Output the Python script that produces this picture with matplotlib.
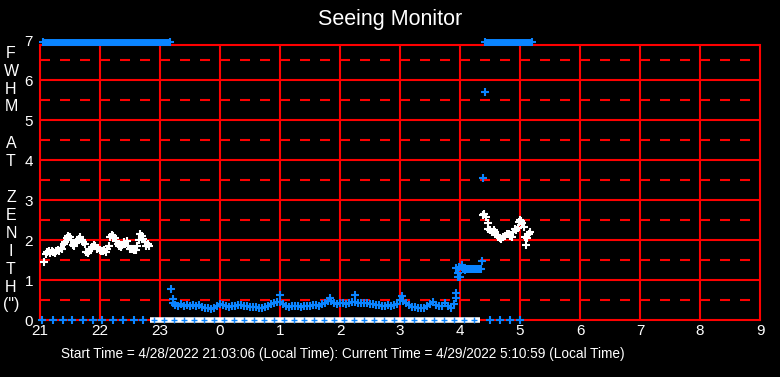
import matplotlib
matplotlib.use("Agg")
import matplotlib.pyplot as plt

# ---------------- data (hours since 21:00) ----------------
x_tick_labels = ["21", "22", "23", "0", "1", "2", "3", "4", "5", "6", "7", "8", "9"]
y_tick_labels = ["0", "1", "2", "3", "4", "5", "6", "7"]

white1_t = [0.07, 0.10, 0.12, 0.15, 0.17, 0.20, 0.22, 0.25, 0.27, 0.30, 0.32, 0.35, 0.37,
            0.40, 0.42, 0.45, 0.47, 0.50, 0.52, 0.55, 0.57, 0.60, 0.62, 0.65, 0.67, 0.70,
            0.72, 0.75, 0.77, 0.80, 0.82, 0.85, 0.87, 0.90, 0.92, 0.95, 0.97, 1.00, 1.02,
            1.05, 1.07, 1.10, 1.12, 1.15, 1.17, 1.20, 1.22, 1.25, 1.27, 1.30, 1.32, 1.35,
            1.37, 1.40, 1.42, 1.45, 1.47, 1.50, 1.52, 1.55, 1.57, 1.60, 1.62, 1.65, 1.67,
            1.70, 1.72, 1.75, 1.77, 1.80, 1.82]
white1_v = [1.45, 1.65, 1.70, 1.73, 1.68, 1.72, 1.70, 1.67, 1.72, 1.75, 1.73, 1.80, 1.78,
            1.90, 1.95, 2.05, 2.10, 2.08, 2.00, 1.88, 1.85, 1.92, 1.98, 2.02, 2.07, 2.00,
            1.95, 1.90, 1.70, 1.68, 1.72, 1.78, 1.82, 1.88, 1.85, 1.78, 1.80, 1.75, 1.73,
            1.72, 1.75, 1.71, 1.78, 1.85, 2.08, 2.12, 2.10, 2.05, 1.98, 1.90, 1.85, 1.82,
            1.88, 1.95, 1.90, 1.98, 1.85, 1.78, 1.77, 1.78, 1.75, 1.76, 1.85, 2.00, 2.15,
            2.10, 2.02, 1.95, 1.85, 1.90, 1.85]

white2_t = [7.39, 7.40, 7.43, 7.46, 7.47, 7.50, 7.53, 7.56, 7.58, 7.61, 7.64, 7.67, 7.69,
            7.72, 7.75, 7.78, 7.81, 7.84, 7.86, 7.89, 7.92, 7.94, 7.96, 7.98, 8.00, 8.02,
            8.04, 8.06, 8.08, 8.10, 8.12, 8.15, 8.17]
white2_v = [2.62, 2.65, 2.57, 2.42, 2.28, 2.25, 2.21, 2.24, 2.21, 2.12, 2.08, 2.05, 2.03,
            2.08, 2.11, 2.15, 2.15, 2.10, 2.08, 2.20, 2.28, 2.25, 2.29, 2.45, 2.50, 2.47,
            2.43, 2.32, 2.08, 1.88, 2.04, 2.15, 2.19]

blue_t = [2.19, 2.21, 2.22, 2.25, 2.30, 2.35, 2.40, 2.45, 2.50, 2.55, 2.60, 2.65, 2.70,
          2.75, 2.80, 2.85, 2.90, 2.95, 3.00, 3.05, 3.10, 3.15, 3.20, 3.25, 3.30, 3.35,
          3.40, 3.45, 3.50, 3.55, 3.60, 3.65, 3.70, 3.75, 3.80, 3.85, 3.90, 3.95, 4.00,
          4.00, 4.05, 4.10, 4.15, 4.20, 4.25, 4.30, 4.35, 4.40, 4.45, 4.50, 4.55, 4.60,
          4.65, 4.70, 4.75, 4.80, 4.83, 4.85, 4.90, 4.95, 5.00, 5.05, 5.10, 5.15, 5.20,
          5.25, 5.25, 5.30, 5.35, 5.40, 5.45, 5.50, 5.55, 5.60, 5.65, 5.70, 5.75, 5.80,
          5.85, 5.90, 5.95, 6.00, 6.03, 6.05, 6.10, 6.15, 6.20, 6.25, 6.30, 6.35, 6.40,
          6.45, 6.50, 6.55, 6.60, 6.65, 6.70, 6.75, 6.80, 6.85, 6.90, 6.93, 6.94, 6.94,
          6.96, 6.97, 6.98, 7.00, 7.03, 7.05, 7.08, 7.10, 7.13, 7.15, 7.18, 7.20, 7.23,
          7.25, 7.28, 7.30, 7.33, 7.35, 7.37, 7.39, 7.41]
blue_v = [0.77, 0.53, 0.42, 0.38, 0.35, 0.40, 0.36, 0.38, 0.34, 0.37, 0.36, 0.38, 0.33,
          0.31, 0.29, 0.27, 0.30, 0.36, 0.40, 0.37, 0.34, 0.32, 0.36, 0.35, 0.38, 0.37,
          0.35, 0.34, 0.33, 0.32, 0.32, 0.31, 0.31, 0.33, 0.36, 0.39, 0.42, 0.45, 0.46,
          0.63, 0.40, 0.36, 0.33, 0.35, 0.34, 0.36, 0.33, 0.34, 0.36, 0.35, 0.38, 0.37,
          0.36, 0.39, 0.42, 0.48, 0.55, 0.47, 0.42, 0.41, 0.43, 0.42, 0.40, 0.42, 0.44,
          0.45, 0.63, 0.42, 0.43, 0.42, 0.42, 0.41, 0.40, 0.38, 0.37, 0.36, 0.35, 0.37,
          0.36, 0.38, 0.40, 0.50, 0.60, 0.48, 0.42, 0.37, 0.33, 0.32, 0.31, 0.30, 0.30,
          0.34, 0.40, 0.45, 0.38, 0.36, 0.34, 0.42, 0.36, 0.30, 0.40, 0.68, 0.56, 1.29,
          1.08, 1.17, 1.33, 1.07, 1.37, 1.27, 1.26, 1.28, 1.27, 1.27, 1.28, 1.27, 1.27,
          1.27, 1.27, 1.27, 1.27, 1.27, 1.47, 3.54, 5.69]

bottom_blue_t = [0.04, 0.21, 0.38, 0.54, 0.71, 0.88, 1.04, 1.22, 1.39, 1.56, 1.72,
                 7.50, 7.67, 7.83, 8.00]
bottom_white_span = [1.83, 7.33]
bottom_dot_t = [1.90, 2.07, 2.24, 2.40, 2.57, 2.74, 2.90, 3.07, 3.24, 3.40, 3.57, 3.74,
                3.90, 4.07, 4.24, 4.40, 4.57, 4.74, 4.90, 5.07, 5.24, 5.40, 5.57, 5.74,
                5.90, 6.07, 6.24, 6.40, 6.57, 6.74, 6.90, 7.07, 7.24]
top_spans = [[0.05, 2.17], [7.42, 8.20]]
top_value = 6.95
bottom_value = 0.0

# ---------------- styling ----------------
RED = "#ff0000"
BLUE = "#0a84ff"
FONT = ["Liberation Sans Narrow", "Liberation Sans", "DejaVu Sans"]
plt.rcParams["font.family"] = FONT

fig = plt.figure(figsize=(7.8, 3.77), dpi=100, facecolor="black")
ax = fig.add_axes([40 / 780, 1 - 320 / 377, 720 / 780, 280 / 377])
ax.set_facecolor("black")
ax.set_xlim(0, 12)
ax.set_ylim(0, 7)
frame_top = 6.875

for h in range(1, 12):
    ax.vlines(h, 0, frame_top, color=RED, lw=1.5, zorder=1)
for yv in range(1, 7):
    ax.axhline(yv, color=RED, lw=1.5, zorder=1)
for k in range(7):
    ax.axhline(k + 0.5, color=RED, lw=1.5, dashes=(4.8, 4.8), zorder=1)
ax.axhline(frame_top, color=RED, lw=1.5, zorder=1)

for s in ["left", "right", "bottom"]:
    ax.spines[s].set_color(RED)
    ax.spines[s].set_linewidth(1.5)
ax.spines["top"].set_visible(False)
ax.spines["right"].set_bounds(0, frame_top)
ax.spines["left"].set_bounds(0, frame_top)

ax.set_xticks(range(13))
ax.set_xticklabels(x_tick_labels)
ax.set_yticks(range(8))
ax.set_yticklabels(y_tick_labels)
ax.tick_params(length=0, colors="white", labelsize=11)
ax.tick_params(axis="x", pad=3)
ax.tick_params(axis="y", pad=5)

mk = dict(linestyle="none", marker="+", markersize=6, markeredgewidth=1.5)

# bottom indicators
ax.plot(bottom_white_span, [bottom_value] * 2, color="white", lw=4,
        solid_capstyle="butt", clip_on=False, zorder=4)
ax.plot(bottom_dot_t, [bottom_value] * len(bottom_dot_t), color=BLUE, clip_on=False,
        zorder=5, linestyle="none", marker="+", markersize=4, markeredgewidth=1)
ax.plot(bottom_blue_t, [bottom_value] * len(bottom_blue_t), color=BLUE, clip_on=False,
        zorder=5, **mk)

# top indicators
for span in top_spans:
    ax.plot(span, [top_value] * 2, color=BLUE, lw=5, solid_capstyle="butt",
            clip_on=False, zorder=5)
    ax.plot(span, [top_value] * 2, color=BLUE, clip_on=False, zorder=5, **mk)

# data
ax.plot(white1_t, white1_v, color="white", zorder=6, **mk)
ax.plot(white2_t, white2_v, color="white", zorder=6, **mk)
ax.plot(blue_t, blue_v, color=BLUE, zorder=6, **mk)

# texts
fig.text(0.5, 1 - 20 / 377, "Seeing Monitor", color="white", fontsize=15.5,
         ha="center", va="center", family=["Liberation Sans", "DejaVu Sans"])
letters = ["F", "W", "H", "M", "", "A", "T", "", "Z", "E", "N", "I", "T", "H", "(\")"]
for i, ch in enumerate(letters):
    if ch:
        fig.text(11 / 780, 1 - (53 + 18 * i) / 377, ch, color="white", fontsize=11.5,
                 ha="center", va="center")
fig.text(343 / 780, 1 - 354 / 377,
         "Start Time = 4/28/2022 21:03:06 (Local Time): Current Time = 4/29/2022 5:10:59 (Local Time)",
         color="white", fontsize=9.8, ha="center", va="center")

fig.savefig("out.png", dpi=100, facecolor="black")
